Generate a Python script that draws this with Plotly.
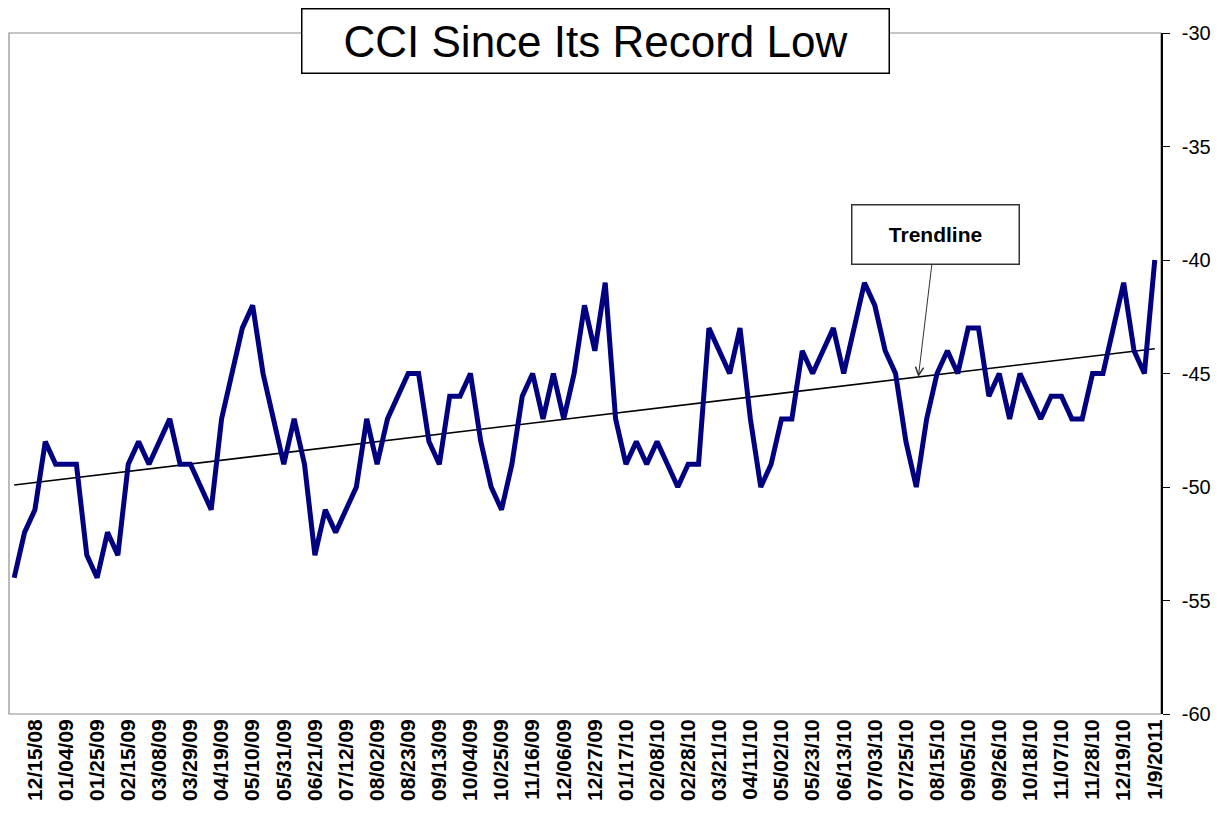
import numpy as np
import plotly.graph_objects as go

cci_values = [
    -54, -52, -51, -48, -49, -49, -49, -53, -54, -52,
    -53, -49, -48, -49, -48, -47, -49, -49, -50, -51,
    -47, -45, -43, -42, -45, -47, -49, -47, -49, -53,
    -51, -52, -51, -50, -47, -49, -47, -46, -45, -45,
    -48, -49, -46, -46, -45, -48, -50, -51, -49, -46,
    -45, -47, -45, -47, -45, -42, -44, -41, -47, -49,
    -48, -49, -48, -49, -50, -49, -49, -43, -44, -45,
    -43, -47, -50, -49, -47, -47, -44, -45, -44, -43,
    -45, -43, -41, -42, -44, -45, -48, -50, -47, -45,
    -44, -45, -43, -43, -46, -45, -47, -45, -46, -47,
    -46, -46, -47, -47, -45, -45, -43, -41, -44, -45,
    -40,
]

tick_labels = [
    "12/15/08", "01/04/09", "01/25/09", "02/15/09", "03/08/09", "03/29/09",
    "04/19/09", "05/10/09", "05/31/09", "06/21/09", "07/12/09", "08/02/09",
    "08/23/09", "09/13/09", "10/04/09", "10/25/09", "11/16/09", "12/06/09",
    "12/27/09", "01/17/10", "02/08/10", "02/28/10", "03/21/10", "04/11/10",
    "05/02/10", "05/23/10", "06/13/10", "07/03/10", "07/25/10", "08/15/10",
    "09/05/10", "09/26/10", "10/18/10", "11/07/10", "11/28/10", "12/19/10",
    "1/9/2011",
]

y_tick_values = [-60, -55, -50, -45, -40, -35, -30]
y_tick_labels = ["-60", "-55", "-50", "-45", "-40", "-35", "-30"]

title_text = "CCI Since Its Record Low"
trend_label = "Trendline"

x = np.arange(len(cci_values))
label_step = 3
label_start = len(cci_values) - 1 - label_step * (len(tick_labels) - 1)
tick_vals = [label_start + label_step * k for k in range(len(tick_labels))]

slope, intercept = np.polyfit(x, np.array(cci_values, dtype=float), 1)
trend = slope * x + intercept

FONT = "Arial, 'Liberation Sans', sans-serif"

fig = go.Figure()
fig.add_trace(go.Scatter(
    x=x, y=trend, mode="lines",
    line=dict(color="black", width=1.6), hoverinfo="skip", showlegend=False,
))
fig.add_trace(go.Scatter(
    x=x, y=cci_values, mode="lines",
    line=dict(color="#000080", width=5), showlegend=False,
))

# plot-area frame (grey)
fig.add_shape(type="rect", xref="paper", yref="paper", x0=0, x1=1, y0=0, y1=1,
              line=dict(color="#8c8c8c", width=1.2), layer="below")

# title box
fig.add_annotation(
    text=title_text, xref="paper", yref="paper", x=0.509, y=1.0,
    yanchor="middle", yshift=-8, showarrow=False,
    font=dict(family=FONT, size=44, color="black"),
    bgcolor="white", bordercolor="black", borderwidth=1.5,
    width=578, height=55, borderpad=4,
)

# trendline callout
arrow_i = 87.2
fig.add_annotation(
    text="<b>" + trend_label + "</b>", x=arrow_i, y=float(slope * arrow_i + intercept),
    xref="x", yref="y", ax=17, ay=-142, axref="pixel", ayref="pixel",
    showarrow=True, arrowhead=5, arrowsize=1.6, arrowwidth=1, arrowcolor="#333333",
    font=dict(family=FONT, size=21, color="black"),
    bgcolor="white", bordercolor="#333333", borderwidth=1.5,
    width=158, height=50, borderpad=4,
)

fig.update_layout(
    width=1222, height=833,
    margin=dict(l=1, r=69, t=25, b=127),
    paper_bgcolor="white", plot_bgcolor="white",
    font=dict(family=FONT, color="black"),
    xaxis=dict(
        range=[-0.5, 110.6], showgrid=False, zeroline=False,
        tickmode="array", tickvals=tick_vals, ticktext=tick_labels,
        tickangle=-90, ticks="", showline=False,
        tickfont=dict(family=FONT, size=21, color="black", weight="bold"),
    ),
    yaxis=dict(
        side="right", range=[-60, -30], showgrid=False, zeroline=False,
        tickmode="array", tickvals=y_tick_values, ticktext=y_tick_labels,
        showline=True, linecolor="black", linewidth=1.5,
        ticks="outside", ticklen=7, tickcolor="black", tickwidth=1.2,
        ticklabelstandoff=8,
        tickfont=dict(family=FONT, size=20, color="black"),
    ),
)

fig.write_html("out.html")
